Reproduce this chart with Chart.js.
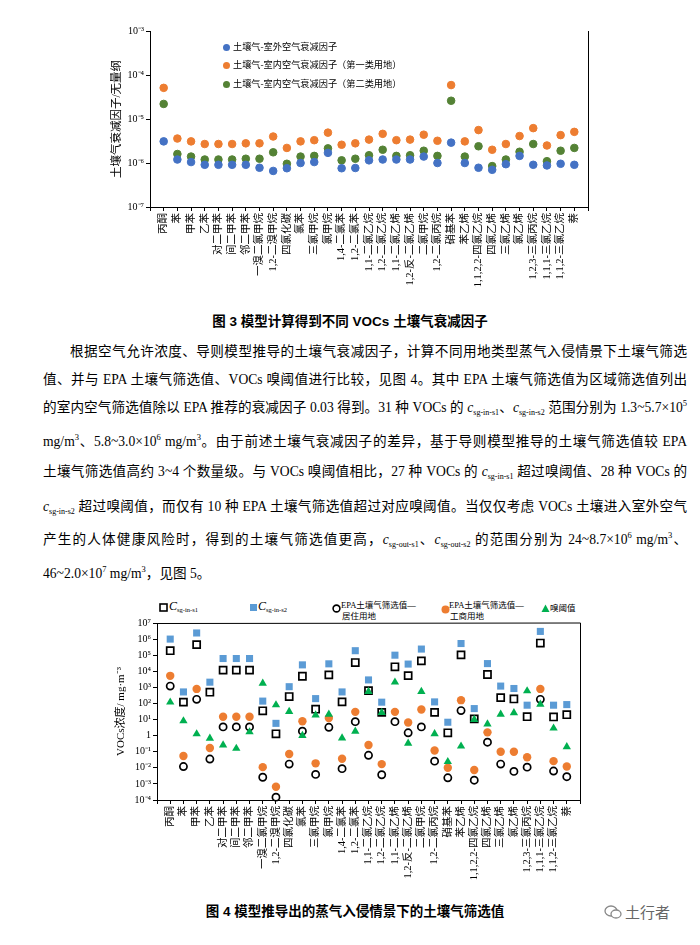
<!DOCTYPE html>
<html>
<head>
<meta charset="utf-8">
<script src="https://cdn.jsdelivr.net/npm/chart.js@4.4.0/dist/chart.umd.min.js"></script>
<style>
body { margin: 0; background: #fff; width: 700px; height: 945px; position: relative; overflow: hidden;
       font-family: "Liberation Serif", "Noto Sans CJK SC", serif; color: #000; }
.abs { position: absolute; }
canvas { position: absolute; }
.cap { position: absolute; left: 0; width: 700px; text-align: center; font-family: "Liberation Sans", "Noto Sans CJK SC", sans-serif;
       font-weight: bold; font-size: 13.5px; line-height: 20px; }
.ln { position: absolute; left: 43px; width: 644px; font-size: 13.6px; line-height: 20px; white-space: nowrap;
      text-align: justify; text-align-last: justify; }
.ln i { font-style: italic; }
.ln sub { font-size: 8px; vertical-align: -3px; line-height: 0; }
.ln sup { font-size: 8.5px; vertical-align: 6px; line-height: 0; }
.lg1 { position: absolute; left: 223px; font-size: 9.2px; line-height: 12px; white-space: nowrap; }
.lg1 span { display: inline-block; width: 7px; height: 7px; border-radius: 50%; margin-right: 3px; vertical-align: -0.5px; }
.lg2 { position: absolute; font-size: 8.5px; line-height: 11px; white-space: nowrap; }
.lg2 svg { position: absolute; }
.lg2 i { font-size: 12px; }
.lg2 sub { font-size: 6.5px; vertical-align: -2px; }
</style>
</head>
<body>

<canvas id="af" width="510" height="285" style="left:95px;top:20px"></canvas>
<div class="lg1" style="top:41px"><span style="background:#4472C4"></span>土壤气-室外空气衰减因子</div>
<div class="lg1" style="top:59px"><span style="background:#ED7D31"></span>土壤气-室内空气衰减因子（第一类用地）</div>
<div class="lg1" style="top:78px"><span style="background:#548235"></span>土壤气-室内空气衰减因子（第二类用地）</div>

<div class="cap" style="top:312px">图 3 模型计算得到不同 VOCs 土壤气衰减因子</div>

<div class="ln" style="top:342px;padding-left:27px;width:617px">根据空气允许浓度、导则模型推导的土壤气衰减因子，计算不同用地类型蒸气入侵情景下土壤气筛选</div>
<div class="ln" style="top:370px">值、并与 EPA 土壤气筛选值、VOCs 嗅阈值进行比较，见图 4。其中 EPA 土壤气筛选值为区域筛选值列出</div>
<div class="ln" style="top:398px">的室内空气筛选值除以 EPA 推荐的衰减因子 0.03 得到。31 种 VOCs 的 <i>c</i><sub>sg-in-s1</sub>、<i>c</i><sub>sg-in-s2</sub> 范围分别为 1.3~5.7×10<sup>5</sup></div>
<div class="ln" style="top:432px">mg/m<sup>3</sup>、5.8~3.0×10<sup>6</sup> mg/m<sup>3</sup>。由于前述土壤气衰减因子的差异，基于导则模型推导的土壤气筛选值较 EPA</div>
<div class="ln" style="top:462px">土壤气筛选值高约 3~4 个数量级。与 VOCs 嗅阈值相比，27 种 VOCs 的 <i>c</i><sub>sg-in-s1</sub> 超过嗅阈值、28 种 VOCs 的</div>
<div class="ln" style="top:497px"><i>c</i><sub>sg-in-s2</sub> 超过嗅阈值，而仅有 10 种 EPA 土壤气筛选值超过对应嗅阈值。当仅仅考虑 VOCs 土壤进入室外空气</div>
<div class="ln" style="top:530px">产生的人体健康风险时，得到的土壤气筛选值更高，<i>c</i><sub>sg-out-s1</sub>、<i>c</i><sub>sg-out-s2</sub> 的范围分别为 24~8.7×10<sup>6</sup> mg/m<sup>3</sup>、</div>
<div class="ln" style="top:564px;text-align-last:left">46~2.0×10<sup>7</sup> mg/m<sup>3</sup>，见图 5。</div>

<div class="lg2" style="left:159px;top:601px"><svg width="9" height="9" style="left:0;top:2px"><rect x="1" y="1" width="7" height="7" fill="none" stroke="#000" stroke-width="1.6"/></svg><span style="margin-left:10px"><i>C</i><sub>sg-in-s1</sub></span></div>
<div class="lg2" style="left:249px;top:601px"><svg width="9" height="9" style="left:0;top:2px"><rect x="1" y="1" width="7" height="7" fill="#5B9BD5"/></svg><span style="margin-left:9px"><i>C</i><sub>sg-in-s2</sub></span></div>
<div class="lg2" style="left:332px;top:600px"><svg width="9" height="9" style="left:0;top:4px"><circle cx="4.5" cy="4.5" r="3.4" fill="none" stroke="#000" stroke-width="1.6"/></svg><div style="margin-left:9px">EPA土壤气筛选值—</div><div style="margin-left:10px">居住用地</div></div>
<div class="lg2" style="left:441px;top:600px"><svg width="9" height="9" style="left:0;top:5px"><circle cx="4.5" cy="4.5" r="4" fill="#ED7D31"/></svg><div style="margin-left:8px">EPA土壤气筛选值—</div><div style="margin-left:9px">工商用地</div></div>
<div class="lg2" style="left:541px;top:603px"><svg width="9" height="9" style="left:0;top:1px"><polygon points="4.5,0.5 8.5,8 0.5,8" fill="#00B050"/></svg><span style="margin-left:9px">嗅阈值</span></div>

<canvas id="conc" width="500" height="285" style="left:95px;top:615px"></canvas>

<div class="cap" style="top:902px;left:5px">图 4 模型推导出的蒸气入侵情景下的土壤气筛选值</div>
<div class="abs" style="left:604px;top:902px;font-size:15px;line-height:20px;color:#666;font-family:'Noto Sans CJK SC',sans-serif">
<svg width="18" height="16" style="vertical-align:-2px;margin-right:3px"><ellipse cx="7" cy="7" rx="6" ry="5" fill="none" stroke="#888" stroke-width="1.3"/><ellipse cx="12" cy="10" rx="5" ry="4" fill="#fff" stroke="#888" stroke-width="1.3"/></svg>土行者</div>

<script>
const voc = ['丙酮', '苯', '甲苯', '乙苯', '对二甲苯', '间二甲苯', '邻二甲苯', '一溴二氯甲烷', '1,2-二溴甲烷', '四氯化碳',
    '氯苯', '三氯甲烷', '氯甲烷', '1,4-二氯苯', '1,2-二氯苯', '1,1-二氯乙烷', '1,2-二氯乙烷', '1,1-二氯乙烯', '1,2-反-二氯乙烯', '二氯甲烷',
    '1,2-二氯丙烷', '硝基苯', '苯乙烯', '1,1,2,2-四氯乙烷', '四氯乙烯', '三氯乙烯', '氯乙烯', '1,2,3-三氯丙烷', '1,1,1-三氯乙烷', '1,1,2-三氯乙烷', '萘'];

// 图3 土壤气衰减因子
const outdoor = [3.1e-6, 1.2e-6, 1.05e-6, 9.1e-7, 9.1e-7, 9.1e-7, 9.1e-7, 7.8e-7, 6.6e-7, 7.6e-7,
    1.0e-6, 1.05e-6, 1.7e-6, 7.6e-7, 7.7e-7, 1.15e-6, 1.2e-6, 1.2e-6, 1.2e-6, 1.4e-6,
    1.0e-6, 2.9e-6, 1.0e-6, 7.8e-7, 7.0e-7, 9.4e-7, 1.45e-6, 9.1e-7, 8.8e-7, 9.6e-7, 9.1e-7];
const indoorS1 = [5.1e-5, 3.6e-6, 3.1e-6, 2.7e-6, 2.7e-6, 2.7e-6, 2.8e-6, 2.8e-6, 4.0e-6, 2.2e-6,
    3.1e-6, 3.3e-6, 4.9e-6, 2.6e-6, 2.8e-6, 3.4e-6, 4.6e-6, 3.3e-6, 3.4e-6, 4.4e-6,
    3.2e-6, 5.9e-5, 3.1e-6, 5.6e-6, 2.0e-6, 2.7e-6, 4.1e-6, 6.2e-6, 2.5e-6, 4.3e-6, 5.1e-6];
const indoorS2 = [2.2e-5, 1.6e-6, 1.4e-6, 1.2e-6, 1.2e-6, 1.2e-6, 1.25e-6, 1.25e-6, 1.75e-6, 9.6e-7,
    1.4e-6, 1.45e-6, 2.15e-6, 1.15e-6, 1.25e-6, 1.5e-6, 2.0e-6, 1.45e-6, 1.5e-6, 1.9e-6,
    1.45e-6, 2.6e-5, 1.4e-6, 2.4e-6, 8.5e-7, 1.2e-6, 1.8e-6, 2.7e-6, 1.1e-6, 1.9e-6, 2.2e-6];
const afTicks = [1e-7, 1e-6, 1e-5, 1e-4, 1e-3];

// 图4 土壤气筛选值 (mg/m3)
const csgS1 = [1.9e5, 120, 4.5e5, 500, 1.17e4, 1.17e4, 1.17e4, 35, 1.3, 270,
    4900, 44, 6000, 125, 3.5e4, 630, 28, 1.9e4, 5400, 4.4e4,
    28, 1.5, 1.05e5, 11, 6300, 230, 190, 15, 5.7e5, 14.5, 20];
const csgS2 = [1.0e6, 520, 2.4e6, 2100, 6.2e4, 6.2e4, 6.2e4, 140, 5.8, 1100,
    2.5e4, 200, 2.9e4, 520, 1.9e5, 2900, 120, 1.0e5, 2.8e4, 2.4e5,
    125, 6.8, 5.3e5, 48, 3.0e4, 1200, 850, 78, 3.0e6, 78, 85];
const epaRes = [1200, 0.012, 180, 0.035, 3.5, 3.5, 3.5, 2.6e-3, 1.5e-4, 0.017,
    1.9, 3.9e-3, 3.3, 8.9e-3, 7.4, 0.06, 3.7e-3, 7.4, 1.5, 3.5,
    0.026, 2.4e-3, 36, 1.7e-3, 0.39, 0.017, 6e-3, 0.011, 180, 6.3e-3, 2.8e-3];
const epaCom = [5200, 0.054, 800, 0.17, 15, 15, 15, 0.011, 6.7e-4, 0.072,
    7.8, 0.019, 12.6, 0.037, 30, 0.26, 0.017, 30, 6.5, 42,
    0.12, 0.010, 160, 7.3e-3, 1.6, 0.1, 0.1, 0.045, 800, 0.026, 0.012];
const odor = [120, 8.2, 1.27, 0.68, 0.26, 0.16, 1.7, 1800, 81, 31,
    1.0, 19, 21, 0.71, 1.86, 550, 27, 2100, 0.33, 550,
    1.3, 0.024, 0.22, 10, 5.3, 21, 26, 600, 89, 2.9, 0.2];
const concTicks = [1e-4, 1e-3, 1e-2, 1e-1, 1, 1e1, 1e2, 1e3, 1e4, 1e5, 1e6, 1e7];

const fam = '"Liberation Serif", "Noto Sans CJK SC", serif';
const supMap = {'-': '⁻', '0': '⁰', '1': '¹', '2': '²', '3': '³', '4': '⁴', '5': '⁵', '6': '⁶', '7': '⁷', '8': '⁸', '9': '⁹'};
function pow10(v) {
    let e = Math.round(Math.log10(v));
    return '10' + String(e).split('').map(c => supMap[c]).join('');
}
function pts(arr) {
    return arr.map((v, i) => ({x: i + 1, y: v}));
}
function catTicks(s) {
    s.ticks = [];
    for (let i = 0; i <= voc.length + 1; i++) s.ticks.push({value: i});
}

const frame = {
    id: 'frame',
    afterDraw(chart, args, opts) {
        const {ctx, chartArea: a} = chart;
        ctx.save();
        ctx.strokeStyle = '#000';
        ctx.lineWidth = 1;
        ctx.beginPath();
        ctx.moveTo(a.right + 0.5, a.bottom);
        ctx.lineTo(a.right + 0.5, a.top);
        if (opts.top) ctx.lineTo(a.left, a.top + 0.5);
        ctx.stroke();
        ctx.restore();
    }
};

function xAxis(h) {
    return {
        type: 'linear', min: 0, max: voc.length + 1,
        afterBuildTicks: catTicks,
        afterFit: s => { s.height = h; },
        grid: {display: true, drawOnChartArea: false, drawTicks: true, tickLength: 4, color: '#000'},
        border: {display: true, color: '#000'},
        ticks: {autoSkip: false, maxRotation: 90, minRotation: 90, padding: 2, color: '#000',
            font: {family: fam, size: 10.5}, callback: v => voc[v - 1] || ''}
    };
}

let af = new Chart(document.getElementById('af'), {
    type: 'scatter',
    data: {
        datasets: [
            {label: '土壤气-室外空气衰减因子', data: pts(outdoor), backgroundColor: '#4472C4', borderColor: '#4472C4', pointRadius: 3.8, clip: false},
            {label: '土壤气-室内空气衰减因子（第一类用地）', data: pts(indoorS1), backgroundColor: '#ED7D31', borderColor: '#ED7D31', pointRadius: 3.8, clip: false},
            {label: '土壤气-室内空气衰减因子（第二类用地）', data: pts(indoorS2), backgroundColor: '#548235', borderColor: '#548235', pointRadius: 3.8, clip: false}
        ]
    },
    options: {
        responsive: false,
        animation: false,
        layout: {padding: {top: 11, right: 17}},
        plugins: {legend: {display: false}, tooltip: {enabled: false}, frame: {top: false}},
        scales: {
            x: xAxis(98),
            y: {
                type: 'logarithmic', min: 1e-7, max: 1e-3,
                afterBuildTicks: s => { s.ticks = afTicks.map(v => ({value: v})); },
                afterFit: s => { s.width = 55; },
                grid: {display: true, drawOnChartArea: false, drawTicks: true, tickLength: 4, color: '#000'},
                border: {display: true, color: '#000'},
                ticks: {padding: 2, color: '#000', font: {family: fam, size: 10}, callback: v => pow10(v)},
                title: {display: true, text: '土壤气衰减因子/无量纲', color: '#000', padding: {top: 15, bottom: 0},
                    font: {family: fam, size: 11.5}}
            }
        }
    },
    plugins: [frame]
});

let conc = new Chart(document.getElementById('conc'), {
    type: 'scatter',
    data: {
        datasets: [
            {label: 'Csg-in-s1', data: pts(csgS1), pointStyle: 'rect', pointRadius: 5, borderWidth: 1.7,
                borderColor: '#000', backgroundColor: 'rgba(0,0,0,0)', order: 5, clip: false},
            {label: 'Csg-in-s2', data: pts(csgS2), pointStyle: 'rect', pointRadius: 5, borderWidth: 0,
                borderColor: '#5B9BD5', backgroundColor: '#5B9BD5', order: 4, clip: false},
            {label: 'EPA土壤气筛选值—居住用地', data: pts(epaRes), pointStyle: 'circle', pointRadius: 3.6, borderWidth: 1.7,
                borderColor: '#000', backgroundColor: 'rgba(0,0,0,0)', order: 3, clip: false},
            {label: 'EPA土壤气筛选值—工商用地', data: pts(epaCom), pointStyle: 'circle', pointRadius: 4.2, borderWidth: 0,
                borderColor: '#ED7D31', backgroundColor: '#ED7D31', order: 2, clip: false},
            {label: '嗅阈值', data: pts(odor), pointStyle: 'triangle', pointRadius: 4.8, borderWidth: 0,
                borderColor: '#00B050', backgroundColor: '#00B050', order: 1, clip: false}
        ]
    },
    options: {
        responsive: false,
        animation: false,
        layout: {padding: {top: 8, right: 15}},
        plugins: {legend: {display: false}, tooltip: {enabled: false}, frame: {top: true}},
        scales: {
            x: xAxis(100),
            y: {
                type: 'logarithmic', min: 1e-4, max: 1e7,
                afterBuildTicks: s => { s.ticks = concTicks.map(v => ({value: v})); },
                afterFit: s => { s.width = 62; },
                grid: {display: true, drawOnChartArea: false, drawTicks: true, tickLength: 4, color: '#000'},
                border: {display: true, color: '#000'},
                ticks: {padding: 2, color: '#000', font: {family: fam, size: 10}, callback: v => (v === 1 ? '1' : pow10(v))},
                title: {display: true, text: 'VOCs浓度/ mg·m⁻³', color: '#000', padding: {top: 20, bottom: 0},
                    font: {family: fam, size: 11}}
            }
        }
    },
    plugins: [frame]
});
</script>
</body>
</html>
